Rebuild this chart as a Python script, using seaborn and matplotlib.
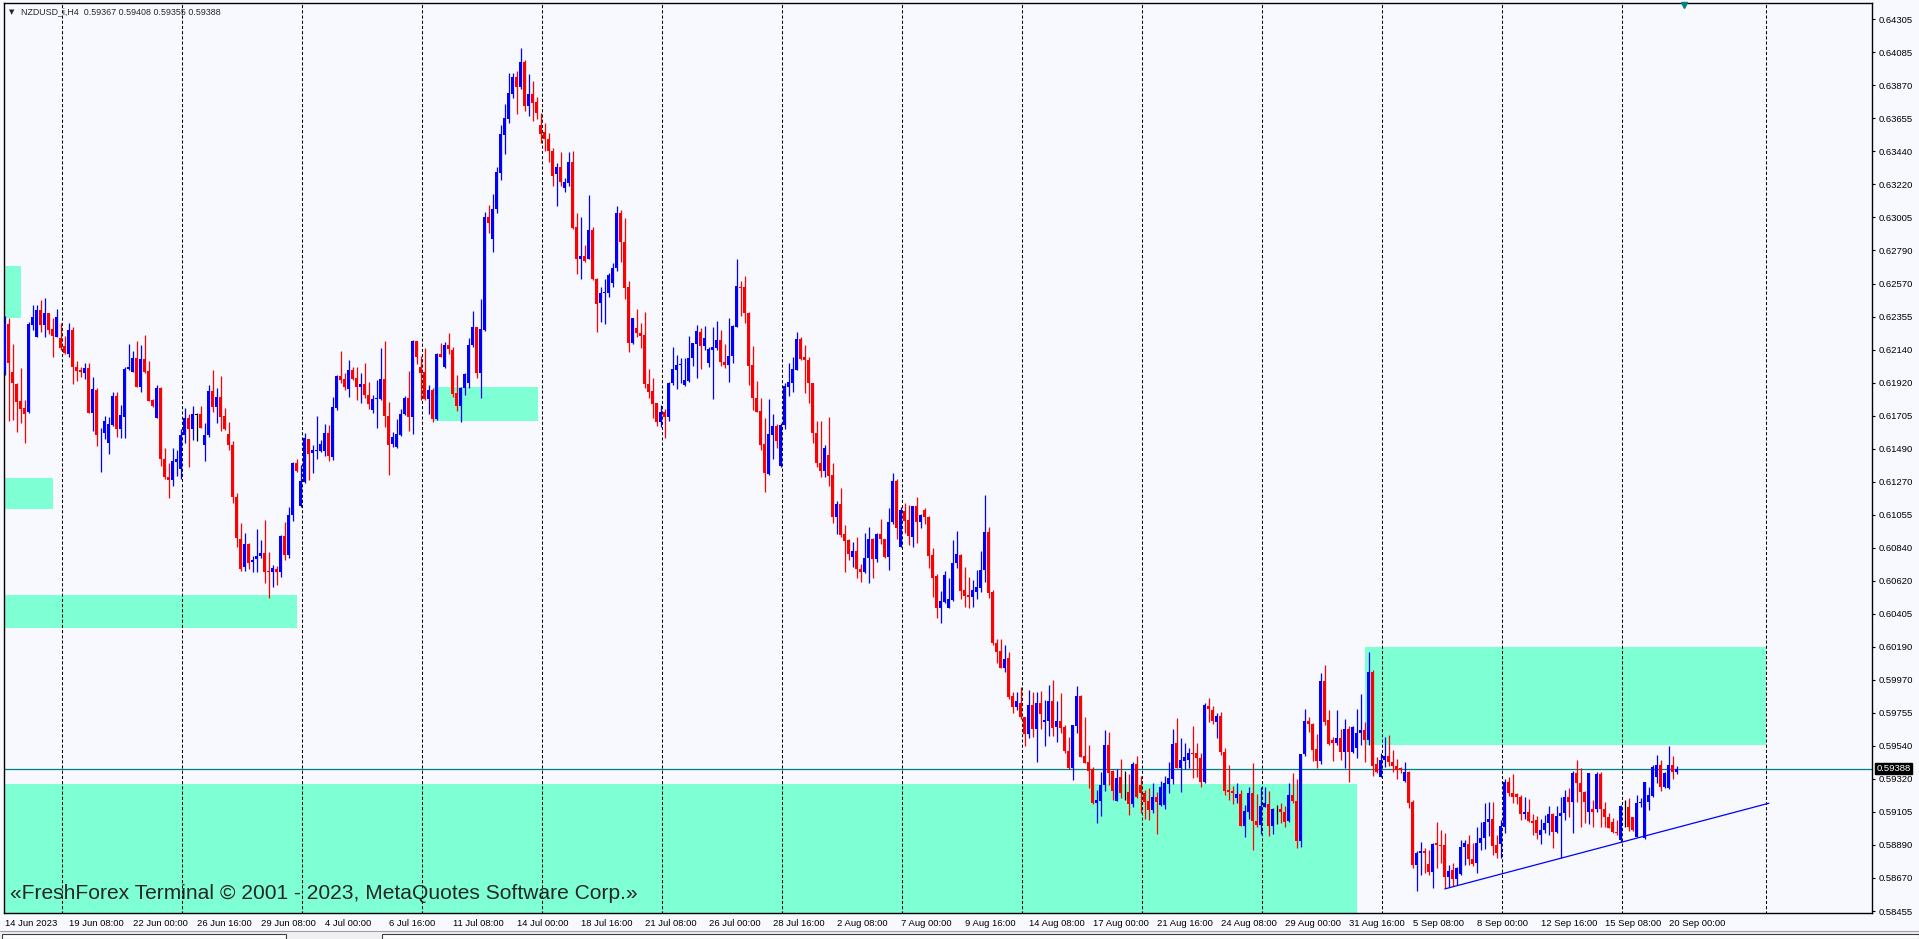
import numpy as np
import pandas as pd
import matplotlib
matplotlib.use("Agg")
import matplotlib.pyplot as plt
from matplotlib.patches import Rectangle
from matplotlib.lines import Line2D
import seaborn as sns

# ==============================
# 1. DATA (NZDUSD H4, prices in points = 1e-5)
# ==============================
opens = [
    62004, 62306, 61991, 61912, 61801, 61753, 61731, 62300, 62223, 62398,
    62300, 62376, 62273, 62223, 62216, 62162, 62109, 62267, 62026, 62004,
    61987, 62020, 61724, 61873, 61589, 61589, 61523, 61643, 61834, 61615,
    61698, 62009, 61993, 62083, 61895, 62076, 61998, 61807, 61692, 61888,
    61418, 61304, 61283, 61403, 61355, 61578, 61687, 61615, 61709, 61716,
    61512, 61578, 61869, 61764, 61829, 61703, 61584, 61512, 61169, 60893,
    60710, 60863, 60747, 60762, 60784, 60801, 60686, 60677, 60699, 60677,
    60915, 60791, 61053, 61392, 61114, 61272, 61552, 61458, 61475, 61475,
    61475, 61589, 61436, 61757, 61965, 61945, 61877, 62004, 61950, 61895,
    61912, 61840, 61742, 61812, 61812, 61945, 61705, 61517, 61501, 61578,
    61713, 61823, 61698, 62195, 62022, 61989, 61814, 61873, 61683, 62109,
    62022, 62168, 62136, 61851, 61770, 61888, 61921, 62168, 62284, 61982,
    62266, 63005, 62861, 63058, 63298, 63546, 63650, 63814, 63924, 63863,
    64027, 63738, 63814, 63764, 63611, 63563, 63517, 63441, 63287, 63338,
    63200, 63233, 63371, 62940, 62732, 62752, 62732, 62922, 62599, 62442,
    62508, 62512, 62573, 62671, 63036, 62846, 62551, 62180, 62278, 62250,
    62234, 61911, 61867, 61786, 61666, 61727, 61699, 61917, 62005, 62037,
    61906, 61933, 62081, 62175, 62256, 62164, 62048, 62136, 62147, 62202,
    62059, 62037, 62097, 62289, 62551, 62551, 62381, 62037, 61823, 61736,
    61519, 61322, 61578, 61640, 61377, 61644, 61895, 61922, 62005, 62208,
    62088, 62070, 61922, 61589, 61392, 61344, 61447, 61316, 61038, 61126,
    60929, 60889, 60776, 60817, 60697, 60677, 60769, 60896, 60765, 60929,
    60896, 60776, 61005, 61279, 60846, 61080, 61021, 60911, 61112, 61010,
    61086, 61038, 60791, 60655, 60441, 60485, 60445, 60496, 60741, 60791,
    60561, 60528, 60513, 60550, 60577, 60692, 60944, 60546, 60211, 60161,
    60052, 60113, 59866, 59796, 59822, 59726, 59614, 59807, 59647, 59822,
    59697, 59704, 59835, 59665, 59702, 59665, 59505, 59396, 59671, 59866,
    59472, 59430, 59387, 59162, 59176, 59281, 59544, 59373, 59176, 59336,
    59233, 59233, 59157, 59419, 59281, 59226, 59176, 59117, 59205, 59150,
    59150, 59288, 59321, 59555, 59395, 59441, 59445, 59489, 59489, 59460,
    59303, 59799, 59773, 59697, 59734, 59500, 59248, 59242, 59198, 59222,
    59014, 59106, 59226, 59047, 59019, 59139, 59157, 59014, 59122, 59122,
    59106, 59045, 59215, 59176, 58916, 59483, 59701, 59679, 59516, 59439,
    59964, 59708, 59577, 59555, 59588, 59500, 59649, 59500, 59526, 59620,
    59642, 59577, 60025, 59417, 59336, 59445, 59472, 59435, 59408, 59391,
    59308, 59369, 59172, 58757, 58837, 58848, 58763, 58708, 58899, 58888,
    58888, 58676, 58724, 58663, 58698, 58872, 58894, 58794, 58768, 58903,
    58932, 59041, 59058, 58888, 58894, 59008, 59299, 59227, 59222, 59205,
    59089, 59102, 59048, 59052, 58953, 58986, 59034, 59089, 58975, 59080,
    59100, 59205, 59172, 59362, 59292, 59233, 59106, 59122, 59122, 59354,
    59122, 59074, 59041, 58975, 58921, 59128, 59139, 59069, 58942, 59161,
    58932, 59172, 59209, 59336, 59413, 59266, 59260, 59413, 59367,
]
highs = [
    62359, 62343, 62175, 61917, 62020, 61807, 62321, 62431, 62431, 62464,
    62479, 62380, 62343, 62405, 62310, 62227, 62315, 62289, 62063, 62026,
    62052, 62048, 61961, 61888, 61622, 61703, 61698, 61862, 61862, 61775,
    62026, 62175, 62131, 62197, 62168, 62234, 62066, 61812, 61906, 61895,
    61490, 61396, 61495, 61479, 61615, 61757, 61713, 61770, 61720, 61770,
    61659, 61906, 62004, 61884, 61967, 61753, 61661, 61538, 61199, 61003,
    60937, 60867, 60786, 60961, 60889, 61020, 60812, 60725, 60718, 60922,
    61009, 61103, 61403, 61420, 61381, 61589, 61552, 61512, 61705, 61545,
    61650, 61643, 61829, 61971, 62131, 61982, 62070, 62026, 62026, 61982,
    62048, 61923, 61840, 61939, 62146, 62197, 61792, 61600, 61681, 61748,
    61836, 61998, 62201, 62195, 62098, 62146, 61906, 61884, 62114, 62179,
    62190, 62247, 62153, 61971, 61895, 61982, 62212, 62391, 62289, 62468,
    63042, 63086, 63158, 63338, 63611, 63749, 63950, 63950, 63965, 64118,
    64038, 63946, 63900, 63797, 63688, 63622, 63561, 63462, 63360, 63436,
    63261, 63436, 63441, 63036, 63010, 62824, 63152, 62944, 62605, 62551,
    62602, 62643, 62705, 63080, 63053, 62999, 62589, 62344, 62403, 62311,
    62383, 62011, 61954, 61786, 61775, 61747, 61928, 62158, 62103, 62081,
    62081, 62228, 62184, 62300, 62278, 62293, 62158, 62289, 62326, 62267,
    62173, 62344, 62300, 62733, 62591, 62621, 62387, 62162, 61933, 61819,
    61692, 61814, 61716, 61650, 61655, 61922, 62048, 62092, 62256, 62219,
    62169, 62092, 61922, 61670, 61670, 61513, 61699, 61392, 61147, 61233,
    60988, 60894, 60878, 60911, 60730, 60937, 60977, 60900, 60937, 61027,
    60896, 61101, 61327, 61290, 61108, 61134, 61119, 61112, 61174, 61058,
    61097, 61047, 60839, 60664, 60555, 60686, 60642, 60889, 60948, 60795,
    60714, 60649, 60627, 60692, 60819, 61185, 60972, 60561, 60240, 60240,
    60200, 60152, 59894, 59894, 59923, 59730, 59905, 59894, 59894, 59899,
    59840, 59938, 59971, 59835, 59888, 59675, 59599, 59675, 59931, 59872,
    59730, 59544, 59398, 59249, 59369, 59642, 59631, 59380, 59384, 59452,
    59373, 59353, 59430, 59472, 59340, 59248, 59259, 59292, 59233, 59307,
    59340, 59432, 59649, 59719, 59587, 59555, 59522, 59668, 59559, 59493,
    59817, 59850, 59799, 59751, 59762, 59522, 59412, 59277, 59292, 59248,
    59150, 59270, 59423, 59222, 59270, 59270, 59242, 59128, 59150, 59165,
    59143, 59292, 59358, 59318, 59483, 59778, 59730, 59686, 59614, 60018,
    60069, 59774, 59599, 59774, 59647, 59714, 59669, 59669, 59778, 59878,
    59697, 60156, 60036, 59463, 59494, 59599, 59610, 59511, 59450, 59402,
    59435, 59373, 59183, 58851, 58910, 58866, 58855, 58899, 59041, 58986,
    58964, 58757, 58768, 58746, 58921, 58921, 58953, 58899, 59008, 59041,
    59166, 59172, 59172, 58953, 59052, 59319, 59336, 59354, 59227, 59216,
    59205, 59188, 59091, 59078, 59058, 59085, 59144, 59096, 59144, 59205,
    59249, 59264, 59376, 59445, 59391, 59244, 59362, 59183, 59369, 59369,
    59172, 59096, 59063, 59052, 59150, 59183, 59194, 59074, 59216, 59194,
    59303, 59271, 59413, 59478, 59445, 59369, 59539, 59472, 59408,
]
lows = [
    61971, 61670, 61676, 61600, 61657, 61528, 61724, 62267, 62223, 62256,
    62223, 62241, 62092, 62219, 62136, 62109, 62092, 61912, 61934, 61956,
    61943, 61720, 61604, 61508, 61337, 61549, 61453, 61639, 61567, 61556,
    61556, 62004, 61991, 61895, 61862, 61982, 61803, 61764, 61692, 61374,
    61289, 61167, 61245, 61309, 61287, 61523, 61370, 61545, 61538, 61622,
    61410, 61567, 61731, 61654, 61606, 61611, 61479, 61134, 60845, 60688,
    60688, 60696, 60681, 60681, 60769, 60609, 60506, 60583, 60594, 60644,
    60758, 60769, 61016, 61337, 61108, 61265, 61283, 61326, 61420, 61464,
    61440, 61407, 61414, 61742, 61917, 61873, 61829, 61939, 61807, 61786,
    61818, 61746, 61724, 61622, 61807, 61633, 61315, 61497, 61490, 61573,
    61709, 61606, 61584, 62044, 61807, 61807, 61716, 61665, 61676, 62092,
    62015, 62107, 61829, 61737, 61665, 61842, 61884, 62157, 61954, 61823,
    62262, 62905, 62780, 63036, 63250, 63421, 63626, 63790, 63683, 63845,
    63705, 63670, 63640, 63648, 63491, 63443, 63371, 63213, 63082, 63213,
    63174, 63213, 62927, 62631, 62599, 62714, 62730, 62594, 62251, 62322,
    62307, 62486, 62547, 62655, 62714, 62470, 62125, 62175, 62219, 62151,
    61884, 61823, 61692, 61637, 61633, 61561, 61670, 61906, 61878, 61922,
    61900, 61928, 62033, 61954, 62011, 62136, 62022, 61814, 62136, 62031,
    62016, 61928, 62053, 62285, 62361, 62311, 61906, 61742, 61731, 61480,
    61206, 61316, 61421, 61491, 61370, 61618, 61836, 61863, 62005, 62070,
    61856, 61790, 61528, 61366, 61305, 61305, 61246, 61003, 60929, 60907,
    60682, 60758, 60710, 60638, 60616, 60675, 60605, 60638, 60747, 60861,
    60769, 60693, 60992, 60894, 60846, 60937, 60856, 60846, 60867, 60970,
    60994, 60708, 60518, 60380, 60347, 60474, 60445, 60491, 60708, 60502,
    60448, 60445, 60448, 60500, 60546, 60612, 60511, 60200, 60080, 60052,
    60021, 59844, 59752, 59774, 59713, 59538, 59588, 59599, 59435, 59647,
    59540, 59603, 59603, 59562, 59621, 59490, 59385, 59315, 59625, 59468,
    59424, 59264, 59155, 59030, 59080, 59242, 59281, 59183, 59176, 59198,
    59183, 59084, 59135, 59198, 59095, 59056, 59052, 59095, 58960, 59143,
    59124, 59226, 59288, 59390, 59233, 59384, 59390, 59329, 59336, 59266,
    59296, 59697, 59681, 59592, 59478, 59215, 59183, 59157, 59165, 59014,
    58942, 59056, 58855, 59008, 58960, 59135, 58949, 58957, 59023, 59030,
    59008, 59041, 59161, 58870, 58877, 59472, 59627, 59439, 59395, 59419,
    59675, 59544, 59441, 59544, 59445, 59391, 59299, 59494, 59456, 59544,
    59435, 59544, 59343, 59362, 59336, 59402, 59408, 59369, 59319, 59358,
    59303, 59128, 58735, 58588, 58691, 58702, 58691, 58603, 58735, 58768,
    58603, 58614, 58619, 58625, 58691, 58757, 58757, 58750, 58702, 58855,
    58859, 58947, 58822, 58805, 58800, 58969, 59211, 59166, 59155, 59052,
    59056, 59041, 58953, 58925, 58892, 58964, 58953, 58866, 58964, 58800,
    59052, 59074, 58969, 59172, 59008, 59030, 59023, 59008, 59106, 59008,
    59008, 58997, 58964, 58953, 58910, 59008, 58982, 58982, 58938, 59139,
    58925, 59117, 59205, 59292, 59244, 59260, 59255, 59321, 59355,
]
closes = [
    62306, 62052, 61917, 61797, 61748, 61716, 62306, 62354, 62398, 62300,
    62380, 62267, 62230, 62350, 62151, 62114, 62267, 62026, 61998, 61993,
    62020, 61724, 61880, 61578, 61593, 61670, 61650, 61836, 61615, 61709,
    62011, 62022, 62083, 61895, 62076, 61989, 61803, 61770, 61886, 61418,
    61304, 61283, 61407, 61420, 61578, 61692, 61615, 61716, 61709, 61626,
    61578, 61869, 61759, 61829, 61698, 61615, 61512, 61169, 60900, 60699,
    60863, 60736, 60758, 60786, 60801, 60681, 60677, 60703, 60677, 60915,
    60791, 61053, 61392, 61344, 61276, 61556, 61451, 61479, 61477, 61517,
    61589, 61442, 61764, 61965, 61939, 61895, 62004, 61945, 61895, 61912,
    61840, 61781, 61812, 61818, 61945, 61705, 61512, 61563, 61584, 61713,
    61823, 61698, 62195, 62092, 61987, 61814, 61873, 61683, 62109, 62092,
    62168, 62140, 61847, 61770, 61888, 61978, 62168, 62284, 61982, 62271,
    63005, 62966, 63060, 63301, 63552, 63655, 63819, 63924, 63863, 64022,
    63738, 63814, 63758, 63692, 63552, 63517, 63441, 63279, 63338, 63239,
    63235, 63371, 62933, 62730, 62752, 62719, 62922, 62599, 62437, 62512,
    62512, 62628, 62672, 63036, 62846, 62545, 62180, 62344, 62250, 62230,
    61911, 61863, 61782, 61666, 61727, 61699, 61917, 62011, 62037, 62044,
    61939, 62081, 62180, 62261, 62164, 62212, 62142, 62153, 62202, 62059,
    62037, 62097, 62293, 62556, 62545, 62376, 62031, 61823, 61731, 61513,
    61327, 61585, 61640, 61541, 61644, 61900, 61928, 62011, 62208, 62077,
    62070, 61922, 61589, 61392, 61344, 61491, 61311, 61038, 61126, 60922,
    60885, 60795, 60817, 60697, 60677, 60769, 60896, 60765, 60929, 60894,
    60776, 61005, 61279, 60966, 61086, 61016, 60916, 61112, 61010, 61053,
    61038, 60786, 60642, 60445, 60489, 60660, 60502, 60741, 60797, 60557,
    60524, 60513, 60561, 60583, 60692, 60944, 60544, 60211, 60157, 60052,
    60109, 59861, 59796, 59833, 59726, 59614, 59807, 59647, 59818, 59748,
    59708, 59835, 59658, 59702, 59658, 59505, 59396, 59675, 59866, 59468,
    59428, 59376, 59166, 59183, 59281, 59544, 59362, 59242, 59329, 59231,
    59233, 59157, 59419, 59205, 59226, 59172, 59117, 59205, 59172, 59270,
    59292, 59325, 59550, 59395, 59445, 59467, 59489, 59485, 59456, 59303,
    59806, 59780, 59703, 59734, 59500, 59244, 59237, 59231, 59222, 59014,
    59111, 59226, 59047, 59019, 59143, 59161, 59014, 59124, 59122, 59106,
    59041, 59215, 59176, 58916, 59483, 59701, 59679, 59511, 59439, 59964,
    59697, 59548, 59555, 59588, 59500, 59649, 59500, 59664, 59620, 59642,
    59577, 60025, 59408, 59369, 59445, 59472, 59435, 59408, 59380, 59380,
    59365, 59166, 58757, 58837, 58848, 58833, 58708, 58894, 58888, 58881,
    58680, 58719, 58663, 58735, 58872, 58903, 58794, 58763, 58903, 58932,
    59041, 59058, 58883, 58837, 59012, 59303, 59227, 59205, 59205, 59089,
    59102, 59048, 59030, 58964, 58986, 59034, 59089, 58975, 59080, 59100,
    59205, 59172, 59362, 59292, 59233, 59172, 59358, 59106, 59354, 59122,
    59074, 59002, 58975, 58964, 59144, 59128, 59008, 58986, 59161, 59172,
    59303, 59216, 59402, 59413, 59271, 59362, 59413, 59369, 59388,
]

x_labels = ["14 Jun 2023", "19 Jun 08:00", "22 Jun 00:00", "26 Jun 16:00", "29 Jun 08:00",
            "4 Jul 00:00", "6 Jul 16:00", "11 Jul 08:00", "14 Jul 00:00", "18 Jul 16:00",
            "21 Jul 08:00", "26 Jul 00:00", "28 Jul 16:00", "2 Aug 08:00", "7 Aug 00:00",
            "9 Aug 16:00", "14 Aug 08:00", "17 Aug 00:00", "21 Aug 16:00", "24 Aug 08:00",
            "29 Aug 00:00", "31 Aug 16:00", "5 Sep 08:00", "8 Sep 00:00", "12 Sep 16:00",
            "15 Sep 08:00", "20 Sep 00:00"]
y_labels = ["0.58455", "0.58670", "0.58890", "0.59105", "0.59320", "0.59540", "0.59755",
            "0.59970", "0.60190", "0.60405", "0.60620", "0.60840", "0.61055", "0.61270",
            "0.61490", "0.61705", "0.61920", "0.62140", "0.62355", "0.62570", "0.62790",
            "0.63005", "0.63220", "0.63440", "0.63655", "0.63870", "0.64085", "0.64305"]

# supply / demand zones (bar index from-to, price low-high)
zone_start = [-5, -5, -5, 107.2, -5, 340.1]
zone_end = [4.1, 12.1, 73.1, 133.2, 338.1, 440.2]
zone_low = [0.62347, 0.61092, 0.60312, 0.61670, 0.58300, 0.59544]
zone_high = [0.62686, 0.61296, 0.60528, 0.61893, 0.59288, 0.60187]

trend_x = [360, 441]
trend_y = [0.58600, 0.59162]
bid_price = 0.59388
header = "NZDUSD_i,H4  0.59367 0.59408 0.59355 0.59388"
copyright_text = "«FreshForex Terminal © 2001 - 2023, MetaQuotes Software Corp.»"

# ==============================
# 2. PREP
# ==============================
df = pd.DataFrame({"open": opens, "high": highs, "low": lows, "close": closes}) / 1e5
df["bar"] = np.arange(len(df))
df["color"] = np.where(df["close"] > df["open"], "#0000FF",
                       np.where(df["close"] < df["open"], "#FF0000", "#000000"))
df["body_low"] = df[["open", "close"]].min(axis=1)
df["body_h"] = (df["close"] - df["open"]).abs().clip(lower=0.00005)

# ==============================
# 3. PLOT
# ==============================
sns.set_style("white")
plt.rcParams["font.family"] = ["Liberation Sans", "DejaVu Sans"]

W, H = 1919, 939
bg = "#F8F8FF"
fig = plt.figure(figsize=(W / 100, H / 100), dpi=100)
fig.patch.set_facecolor(bg)
ax = fig.add_axes([4 / W, 1 - 913.3 / H, (1872 - 4) / W, (913.3 - 3.3) / H])
ax.set_facecolor(bg)

for s, e, lo, hi in zip(zone_start, zone_end, zone_low, zone_high):
    ax.add_patch(Rectangle((s, lo), e - s, hi - lo, facecolor="#7FFFD4",
                           edgecolor="none", zorder=1))

# vertical dashed grid
grid_x = list(np.arange(14.2, 420, 30)) + [440.2]
ax.vlines(grid_x, 0.5, 0.7, colors="black", linestyles=(0, (3, 2)),
          linewidth=0.75, zorder=2)

ax.axhline(bid_price, color="#008080", linewidth=0.9, zorder=2.5)

# candles
ax.vlines(df["bar"], df["low"], df["high"], colors=df["color"], linewidth=0.9, zorder=3)
ax.bar(df["bar"], df["body_h"], bottom=df["body_low"], width=0.75,
       color=df["color"], linewidth=0, zorder=4)

sns.lineplot(x=trend_x, y=trend_y, ax=ax, color="#0000FF", linewidth=0.9, zorder=5)

ax.set_xlim(-0.2, 466.8)
ax.set_ylim(0.58440, 0.64410)

# axes / ticks
ax.yaxis.tick_right()
ax.set_yticks(0.58455 + np.arange(len(y_labels)) * 0.0585 / 27)
ax.set_yticklabels(y_labels)
ax.set_xticks(np.arange(len(x_labels)) * 16)
ax.set_xticklabels(x_labels, ha="left")
ax.tick_params(axis="both", direction="out", length=2.5, width=0.8,
               labelsize=6.8, colors="black")
ax.tick_params(axis="x", pad=1.5)
ax.tick_params(axis="y", pad=2.5)
for sp in ax.spines.values():
    sp.set_visible(True)
    sp.set_color("black")
    sp.set_linewidth(1.0)

ax.annotate(f"{bid_price:.5f}", xy=(1.0, bid_price), xycoords=("axes fraction", "data"),
            xytext=(3.2, 0), textcoords="offset points", va="center", ha="left",
            fontsize=6.8, color="white",
            bbox=dict(boxstyle="square,pad=0.12", facecolor="black", edgecolor="black"))

# header + watermark
fig.text(9 / W, 1 - 11.7 / H, "▼", fontsize=5, va="center", family=["DejaVu Sans"])
fig.text(20.7 / W, 1 - 11.7 / H, header, fontsize=6.4, va="center")
fig.text(9.8 / W, 1 - 893.5 / H, copyright_text, fontsize=15.1, va="center")
fig.add_artist(Line2D([1684 / W], [1 - 5 / H], marker="v", markersize=5,
                      color="#008080", transform=fig.transFigure))

# bottom tab strip
fig.add_artist(Rectangle((0, 0), 1, 8 / H, transform=fig.transFigure,
                         facecolor="#F0F0F0", edgecolor="none"))
fig.add_artist(Line2D([0, 1], [8 / H, 8 / H], color="#A0A0A0", linewidth=0.8,
                      transform=fig.transFigure))
for x0, x1 in [(2, 286), (382, 1919)]:
    fig.add_artist(Rectangle((x0 / W, 0), (x1 - x0) / W, 5 / H, transform=fig.transFigure,
                             facecolor="white", edgecolor="#404040", linewidth=0.8))

fig.savefig("out.png", dpi=100, facecolor=bg)
